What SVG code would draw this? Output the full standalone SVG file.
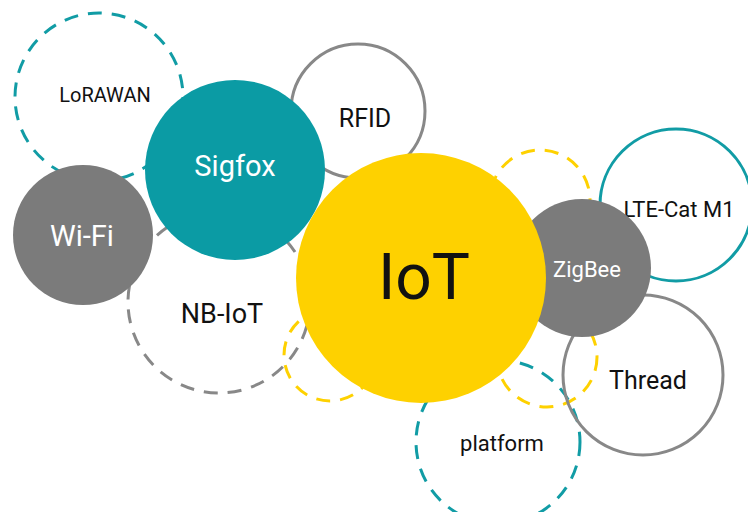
<svg xmlns="http://www.w3.org/2000/svg" width="748" height="512" viewBox="0 0 748 512">
<style>
.dash{fill:none;stroke-width:3;stroke-dasharray:14 10}
.t{font-family:Roboto,"Liberation Sans",sans-serif;text-anchor:middle}
.dk{fill:#111}
.wh{fill:#fff}
.ring{fill:none;stroke-width:3}
</style>
<rect width="748" height="512" fill="#fff"/>
<g id="lorawan"><circle class="dash" cx="99" cy="97" r="84" stroke="#119ca5"/><text class="t dk" x="105" y="102" font-size="20">LoRAWAN</text></g>
<g id="nbiot"><circle class="dash" cx="219" cy="302" r="91" stroke="#888"/><text class="t dk" x="222" y="323" font-size="27">NB-IoT</text></g>
<g id="platform"><circle class="dash" cx="498" cy="442" r="82" stroke="#119ca5"/><text class="t dk" x="502" y="451" font-size="22">platform</text></g>
<g id="yellow-ur"><circle class="dash" cx="540" cy="200" r="50" stroke="#fed100"/></g>
<g id="yellow-lr"><circle class="dash" cx="547" cy="357" r="50" stroke="#fed100"/></g>
<g id="yellow-ll"><circle class="dash" cx="330" cy="355" r="46" stroke="#fed100"/></g>
<g id="rfid"><circle class="ring" cx="358" cy="111" r="67" stroke="#888"/><text class="t dk" x="365" y="127" font-size="25">RFID</text></g>
<g id="thread"><circle class="ring" cx="643" cy="375" r="80" stroke="#888"/><text class="t dk" x="648" y="389" font-size="25">Thread</text></g>
<g id="lte"><circle class="ring" cx="676" cy="205" r="76" stroke="#119ca5"/><text class="t dk" x="679" y="217" font-size="22">LTE-Cat M1</text></g>
<g id="wifi"><circle cx="83" cy="235" r="70" fill="#7b7b7b"/><text class="t wh" x="82" y="246" font-size="29">Wi-Fi</text></g>
<g id="sigfox"><circle cx="235" cy="170" r="90" fill="#0b9ba4"/><text class="t wh" x="235" y="176" font-size="29">Sigfox</text></g>
<g id="zigbee"><circle cx="582" cy="268" r="69" fill="#7b7b7b"/><text class="t wh" x="587" y="277" font-size="22">ZigBee</text></g>
<g id="iot"><circle cx="421" cy="278" r="125" fill="#fed100"/><text class="t dk" x="424" y="299" font-size="64">IoT</text></g>
<g id="connectors"></g>
</svg>
